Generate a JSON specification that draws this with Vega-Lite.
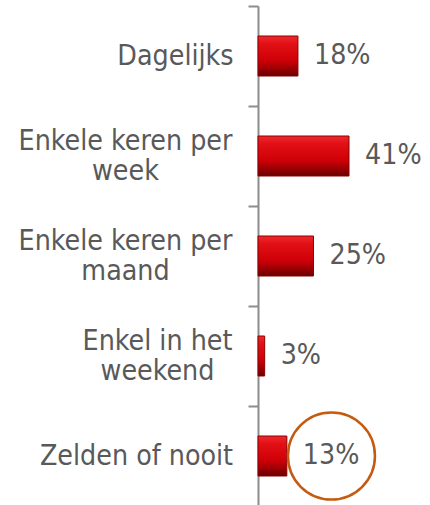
{
  "$schema": "https://vega.github.io/schema/vega-lite/v6.json",
  "autosize": "none",
  "width": 172,
  "height": 500,
  "padding": {"left": 258, "top": 6, "right": 0, "bottom": 0},
  "background": "white",
  "config": {"view": {"stroke": null}},
  "datasets": {
    "freq": [
      {"category": "Dagelijks", "share": 0.18},
      {"category": "Enkele keren per week", "share": 0.41},
      {"category": "Enkele keren per maand", "share": 0.25},
      {"category": "Enkel in het weekend", "share": 0.03},
      {"category": "Zelden of nooit", "share": 0.13}
    ],
    "highlight": [
      {"category": "Zelden of nooit", "share": 0.331}
    ]
  },
  "encoding": {
    "y": {
      "field": "category",
      "type": "nominal",
      "sort": null,
      "scale": {
        "domain": ["Dagelijks", "Enkele keren per week", "Enkele keren per maand", "Enkel in het weekend", "Zelden of nooit"],
        "paddingInner": 0,
        "paddingOuter": 0
      },
      "axis": {
        "title": null,
        "tickBand": "extent",
        "domainColor": "#8c8c8c",
        "domainWidth": 2,
        "tickColor": "#8c8c8c",
        "tickWidth": 2,
        "tickSize": 10,
        "labelFont": "DejaVu Sans Condensed",
        "labelFontSize": 28.3,
        "labelColor": "#595959",
        "labelLineHeight": 30,
        "labelAlign": "center",
        "labelBaseline": {
          "condition": {"test": "datum.value == 'Enkele keren per week' || datum.value == 'Enkele keren per maand' || datum.value == 'Enkel in het weekend'", "value": "line-bottom"},
          "value": "middle"
        },
        "labelLimit": 400,
        "labelPadding": {
          "condition": [
            {"test": "datum.value == 'Dagelijks'", "value": 73},
            {"test": "datum.value == 'Enkel in het weekend'", "value": 91},
            {"test": "datum.value == 'Zelden of nooit'", "value": 112}
          ],
          "value": 123
        },
        "labelExpr": "datum.value == 'Enkele keren per week' ? ['Enkele keren per', 'week'] : datum.value == 'Enkele keren per maand' ? ['Enkele keren per', 'maand'] : datum.value == 'Enkel in het weekend' ? ['Enkel in het', 'weekend'] : datum.value"
      }
    },
    "x": {
      "field": "share",
      "type": "quantitative",
      "scale": {"domain": [0, 0.775], "nice": false, "zero": true},
      "axis": null
    }
  },
  "layer": [
    {
      "data": {"name": "freq"},
      "mark": {
        "type": "bar",
        "size": 40,
        "stroke": "#8a0000",
        "strokeWidth": 1,
        "color": {
          "gradient": "linear",
          "x1": 0, "y1": 0, "x2": 0, "y2": 1,
          "stops": [
            {"offset": 0, "color": "#f0282c"},
            {"offset": 0.2, "color": "#e01015"},
            {"offset": 0.6, "color": "#d00008"},
            {"offset": 0.8, "color": "#a00005"},
            {"offset": 1, "color": "#6a0000"}
          ]
        }
      }
    },
    {
      "data": {"name": "freq"},
      "mark": {
        "type": "text",
        "align": "left",
        "baseline": "middle",
        "dx": 16,
        "font": "DejaVu Sans Condensed",
        "fontSize": 28.3,
        "color": "#595959"
      },
      "encoding": {
        "text": {"field": "share", "type": "quantitative", "format": ".0%"}
      }
    },
    {
      "data": {"name": "highlight"},
      "mark": {
        "type": "point",
        "shape": "circle",
        "filled": false,
        "size": 7569,
        "stroke": "#c55a11",
        "strokeWidth": 2.5,
        "opacity": 1
      }
    }
  ]
}
